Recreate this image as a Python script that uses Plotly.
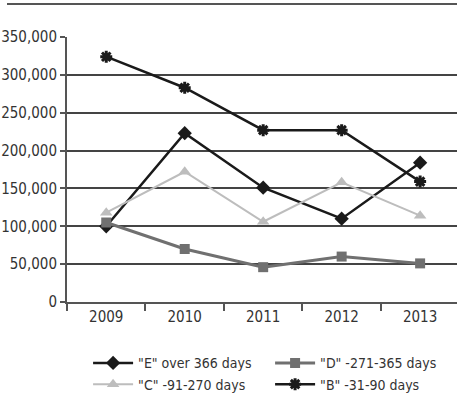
import plotly.graph_objects as go

years = ["2009", "2010", "2011", "2012", "2013"]
e_over_366 = [100000, 223000, 151000, 110000, 184000]
d_271_365 = [105000, 70000, 46000, 60000, 51000]
c_91_270 = [118000, 172000, 106000, 158000, 114000]
b_31_90 = [324000, 283000, 227000, 227000, 159000]

y_ticks = [0, 50000, 100000, 150000, 200000, 250000, 300000, 350000]

FONT = "DejaVu Sans Condensed, Liberation Sans Narrow, Liberation Sans, sans-serif"

series = [
    ('"E" over 366 days', e_over_366, "#1a1a1a", "diamond", 11, 2.5),
    ('"D" -271-365 days', d_271_365, "#707070", "square", 10, 3),
    ('"C" -91-270 days', c_91_270, "#bdbdbd", "triangle-up", 11, 2),
    ('"B" -31-90 days', b_31_90, "#1a1a1a", "asterisk", 10, 2.5),
]

fig = go.Figure()
for name, vals, color, sym, size, width in series:
    marker = dict(symbol=sym, size=size, color=color)
    if sym == "asterisk":
        marker["line"] = dict(color=color, width=3)
    fig.add_trace(go.Scatter(
        x=years, y=vals, name=name, mode="lines+markers",
        line=dict(color=color, width=width), marker=marker,
    ))

fig.update_layout(
    width=457, height=417,
    margin=dict(l=67, r=0, t=37, b=115),
    paper_bgcolor="white", plot_bgcolor="white",
    font=dict(family=FONT, size=15, color="#333333"),
    showlegend=True,
    legend=dict(
        orientation="h", x=0.591, xanchor="center", xref="container",
        y=0.167, yanchor="top", yref="container",
        entrywidth=127, itemwidth=40, tracegroupgap=0,
        font=dict(family=FONT, size=14, color="#333333"),
    ),
    xaxis=dict(
        type="category", range=[-0.5, 4.47],
        showline=True, linecolor="#555555", linewidth=2,
        ticks="outside", tickson="boundaries", ticklen=7,
        tickcolor="#555555", tickwidth=2,
        showgrid=False, zeroline=False,
    ),
    yaxis=dict(
        range=[0, 350000], tickvals=y_ticks,
        tickformat=",d",
        showline=True, linecolor="#555555", linewidth=2,
        ticks="outside", ticklen=5, tickcolor="#555555", tickwidth=1.5,
        showgrid=True, gridcolor="#444444", gridwidth=1.5,
        zeroline=False,
    ),
)

# rule across the top of the figure
fig.add_shape(type="line", xref="paper", yref="paper",
              x0=-60 / 390, x1=1.0, y0=(265 + 33) / 265, y1=(265 + 33) / 265,
              line=dict(color="#555555", width=2))

fig.write_html("out.html")
